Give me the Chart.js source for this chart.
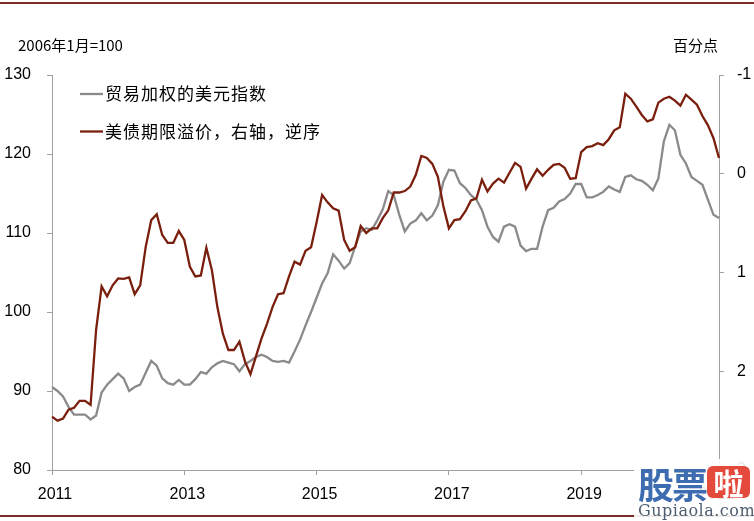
<!DOCTYPE html>
<html>
<head>
<meta charset="utf-8">
<script src="https://cdn.jsdelivr.net/npm/chart.js@4.4.0/dist/chart.umd.min.js"></script>
<style>
  html, body { margin: 0; padding: 0; background: #fff; }
  #wrap { position: relative; width: 754px; height: 521px; overflow: hidden; }
  #c { position: absolute; left: 0; top: 0; }
  .wm { position: absolute; left: 634px; top: 459px; width: 120px; height: 62px; background: rgba(255,255,255,0.9); }
  .wm .gp { position: absolute; left: 4px; top: 4px; font: bold 36px "Noto Sans CJK SC"; color: #3d6db0; letter-spacing: -2px; line-height: 40px; }
  .wm .la { position: absolute; left: 73px; top: 7px; width: 43px; height: 32px; background: #e34a3c; border-radius: 6px;
            color: #fff; font: bold 30px "Noto Sans CJK SC"; line-height: 32px; text-align: center; }
  .wm .url { position: absolute; left: 4px; top: 42px; font: 16px "DejaVu Serif"; color: #4d5e70; letter-spacing: 0.5px; }
</style>
</head>
<body>
<div id="wrap">
  <canvas id="c" width="754" height="521"></canvas>
  <div class="wm"><span class="gp">股票</span><span class="la">啦</span><span class="url">Gupiaola.com</span></div>
</div>
<script>
// monthly, 2011-01 .. 2021-02
const months = [];
for (let y = 2011; y <= 2021; y++) {
  for (let m = 1; m <= 12; m++) {
    if (y === 2021 && m > 2) break;
    months.push(y + '-' + String(m).padStart(2, '0'));
  }
}

// 贸易加权的美元指数 (2006年1月=100), left axis
const usdIndex = [
  90.5, 90.0, 89.3, 88.0, 87.0, 87.0, 87.0, 86.4, 86.9, 89.8,
  90.8, 91.5, 92.2, 91.6, 90.0, 90.5, 90.8, 92.3, 93.8, 93.2,
  91.6, 91.0, 90.8, 91.4, 90.8, 90.8, 91.5, 92.4, 92.2, 93.0,
  93.5, 93.8, 93.6, 93.4, 92.5, 93.4, 93.8, 94.3, 94.6, 94.3,
  93.8, 93.7, 93.8, 93.6, 95.0, 96.5, 98.3, 100.0, 101.8, 103.6,
  104.9, 107.3, 106.5, 105.5, 106.2, 108.3, 110.2, 110.6, 110.4, 111.6,
  113.0, 115.3, 114.8, 112.3, 110.2, 111.2, 111.6, 112.5, 111.6, 112.2,
  113.5, 116.5, 118.0, 117.9, 116.3, 115.7, 114.8, 114.2, 112.9, 110.8,
  109.5, 108.9, 110.8, 111.1, 110.8, 108.4, 107.7, 108.0, 108.0, 110.8,
  112.9, 113.2, 114.0, 114.3, 115.0, 116.2, 116.2, 114.5, 114.5, 114.8,
  115.2, 115.9, 115.5, 115.2, 117.1, 117.3, 116.8, 116.6, 116.1, 115.4,
  116.9, 121.6, 123.7, 123.0, 119.9, 118.8, 117.1, 116.6, 116.1, 114.2,
  112.3, 111.9
];

// 美债期限溢价 (百分点), right axis, reversed
const termPremium = [
  2.46, 2.50, 2.48, 2.39, 2.37, 2.30, 2.30, 2.34, 1.58, 1.14,
  1.24, 1.13, 1.06, 1.065, 1.05, 1.22, 1.13, 0.74, 0.47, 0.41,
  0.62, 0.70, 0.70, 0.58, 0.67, 0.94, 1.04, 1.03, 0.75, 0.975,
  1.35, 1.62, 1.785, 1.785, 1.70, 1.90, 2.03, 1.85, 1.67, 1.52,
  1.35, 1.22, 1.21, 1.04, 0.89, 0.92, 0.78, 0.745, 0.49, 0.215,
  0.29, 0.35, 0.374, 0.67, 0.78, 0.745, 0.53, 0.60, 0.553, 0.553,
  0.45, 0.37, 0.19, 0.19, 0.175, 0.13, 0.01, -0.18, -0.16, -0.10,
  0.03, 0.33, 0.553, 0.47, 0.46, 0.38, 0.27, 0.25, 0.06, 0.18,
  0.10, 0.05, 0.09, -0.01, -0.11, -0.07, 0.15, 0.05, -0.045, 0.02,
  -0.04, -0.09, -0.10, -0.06, 0.05, 0.045, -0.22, -0.27, -0.28, -0.31,
  -0.29, -0.35, -0.44, -0.47, -0.81, -0.76, -0.68, -0.595, -0.53, -0.55,
  -0.72, -0.76, -0.78, -0.74, -0.69, -0.80, -0.75, -0.70, -0.585, -0.49,
  -0.36, -0.16
];

const seriesNames = ['贸易加权的美元指数', '美债期限溢价，右轴，逆序'];
const leftUnit = '2006年1月=100';
const rightUnit = '百分点';

const GRAY = '#8a8a8a';
const RED = '#7a1f0d';
const AXIS = '#a0a0a0';
const FRAME = '#7d2a2a';
const tickFont = { family: '"Liberation Sans", Arial, sans-serif', size: 16 };

// titles, legend and the thin frame lines
const overlay = {
  id: 'overlay',
  afterDraw(c) {
    const ctx = c.ctx;
    ctx.save();
    ctx.fillStyle = FRAME;
    ctx.fillRect(0, 2, 754, 2);
    ctx.fillRect(0, 515, 754, 2);

    ctx.fillStyle = '#000';
    ctx.textBaseline = 'middle';
    ctx.font = '15px "Noto Sans CJK SC"';
    ctx.textAlign = 'left';
    ctx.fillText(leftUnit, 18, 45);
    ctx.textAlign = 'right';
    ctx.fillText(rightUnit, 718, 45);

    ctx.font = '17px "Noto Sans CJK SC"';
    ctx.letterSpacing = '1px';
    ctx.textAlign = 'left';
    c.data.datasets.forEach((ds, k) => {
      const y = 94 + k * 37.5;
      ctx.strokeStyle = ds.borderColor;
      ctx.lineWidth = ds.borderWidth;
      ctx.beginPath();
      ctx.moveTo(80, y);
      ctx.lineTo(103, y);
      ctx.stroke();
      ctx.fillText(ds.label, 105, y);
    });
    ctx.restore();
  }
};

const ctx = document.getElementById('c').getContext('2d');
const chart = new Chart(ctx, {
  type: 'line',
  data: {
    labels: months,
    datasets: [
      {
        label: seriesNames[0],
        data: usdIndex,
        yAxisID: 'y',
        borderColor: GRAY,
        borderWidth: 2.3,
        pointRadius: 0,
        tension: 0,
        order: 1
      },
      {
        label: seriesNames[1],
        data: termPremium,
        yAxisID: 'y1',
        borderColor: RED,
        borderWidth: 2.3,
        pointRadius: 0,
        tension: 0,
        order: 0
      }
    ]
  },
  options: {
    responsive: false,
    animation: false,
    layout: { padding: { top: 75, left: 0, right: 0, bottom: 0 } },
    plugins: { legend: { display: false }, tooltip: { enabled: false } },
    scales: {
      x: {
        type: 'category',
        offset: false,
        grid: { drawOnChartArea: false, tickLength: 5, color: AXIS },
        border: { color: AXIS },
        ticks: {
          autoSkip: false,
          maxRotation: 0,
          padding: 10,
          labelOffset: 3,
          color: '#000',
          font: tickFont,
          callback: function (v, i) {
            const [yy, mm] = months[i].split('-');
            return (mm === '01' && Number(yy) % 2 === 1) ? yy : null;
          }
        },
        afterFit(s) { s.height = 51; }
      },
      y: {
        position: 'left',
        min: 80,
        max: 130,
        grid: { drawOnChartArea: false, tickLength: 5, color: AXIS },
        border: { color: AXIS },
        ticks: { stepSize: 10, padding: 16, color: '#000', font: tickFont },
        afterFit(s) { s.width = 52; }
      },
      y1: {
        position: 'right',
        min: -1,
        max: 3,
        reverse: true,
        grid: { drawOnChartArea: false, tickLength: 5, color: AXIS },
        border: { color: AXIS },
        ticks: { stepSize: 1, padding: 13, color: '#000', font: tickFont },
        afterFit(s) { s.width = 35; }
      }
    }
  },
  plugins: [overlay]
});
</script>
</body>
</html>
